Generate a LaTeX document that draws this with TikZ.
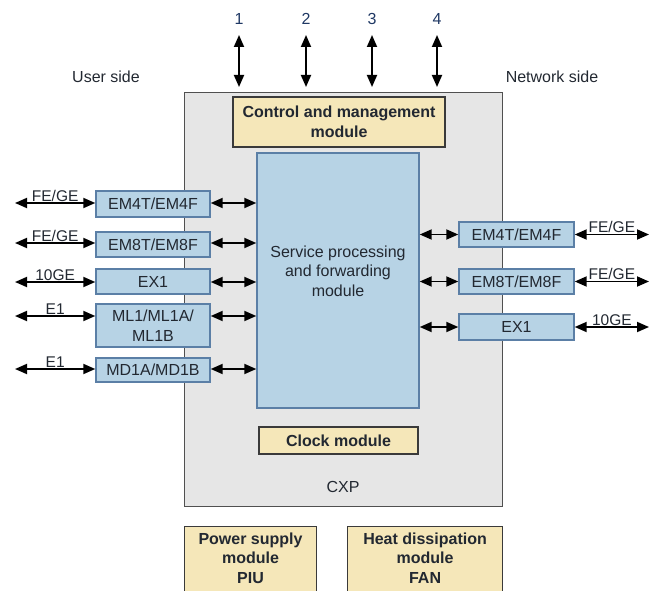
\documentclass[tikz,border=0pt]{standalone}
\usepackage{fontspec}
\setmainfont{Liberation Sans}
\usetikzlibrary{arrows.meta}

\definecolor{cxpfill}{HTML}{E6E6E6}
\definecolor{cxpedge}{HTML}{505050}
\definecolor{ylwfill}{HTML}{F5E7B9}
\definecolor{ylwedge}{HTML}{3A3A3A}
\definecolor{bluefill}{HTML}{B7D3E5}
\definecolor{blueedge}{HTML}{5B7FA6}
\definecolor{txtcol}{HTML}{222831}
\definecolor{numcol}{HTML}{1F3864}

\begin{document}
\begin{tikzpicture}[x=1pt,y=-1pt,
  every node/.style={text=txtcol, font=\fontsize{16}{19.5}\selectfont},
  cxpbox/.style={draw=cxpedge, fill=cxpfill, line width=1.2pt},
  ylwbox/.style={draw=ylwedge, fill=ylwfill, line width=1.1pt, align=center,
    font=\fontsize{16}{19.5}\selectfont\bfseries},
  bluebox/.style={draw=blueedge, fill=bluefill, line width=1.4pt, align=center, inner sep=0pt},
  biarrow/.style={{Triangle[length=12pt,width=10pt]}-{Triangle[length=12pt,width=10pt]}, line width=1.8pt, black},
  lbl/.style={above, inner sep=0.8pt, font=\fontsize{15.5}{18}\selectfont}]
\useasboundingbox (0,0) rectangle (650,591);
\clip (0,0) rectangle (650,591);

% chassis and its modules
\node[cxpbox, minimum width=318, minimum height=414, anchor=north west] (cxp) at (184,92) {};
\node[ylwbox, minimum width=212, minimum height=50] (ctrl) at (339,122) {Control and management\\module};
\node[bluebox, minimum width=162, minimum height=255] (svc) at (338,280.5) {};
\node[align=center] (svctxt) at (338,271) {Service processing\\and forwarding\\module};
\node[ylwbox, minimum width=159, minimum height=27] (clk) at (338.5,440.5) {Clock module};
\node (cxplbl) at (343,487) {CXP};

\node (usr) at (106,77) {User side};
\node (net) at (552,77) {Network side};

% management ports
\foreach \x/\k in {239/1,306/2,372/3,437/4}{
  \node[text=numcol] (num\k) at (\x,19) {\k};
  \coordinate (top\k) at (\x,35);
  \draw[biarrow] (top\k) -- ([yshift=5pt]cxp.north -| top\k);
}

% user side boards
\node[bluebox, minimum width=114, minimum height=26] (uem4) at (153,204) {EM4T/EM4F};
\node[bluebox, minimum width=114, minimum height=25] (uem8) at (153,244.5) {EM8T/EM8F};
\node[bluebox, minimum width=114, minimum height=25] (uex1) at (153,281.5) {EX1};
\node[bluebox, minimum width=114, minimum height=43] (uml1) at (153,325.5) {ML1/ML1A/\\ML1B};
\node[bluebox, minimum width=114, minimum height=24] (umd1) at (153,370) {MD1A/MD1B};

\foreach \n/\y/\t in {uem4/203/{FE/GE},uem8/243/{FE/GE},uex1/282/10GE,uml1/316/E1,umd1/369/E1}{
  \coordinate (ul\n) at (15,\y);
  \draw[biarrow] (ul\n) -- (\n.west |- ul\n) node[midway, lbl] {\t};
  \draw[biarrow] (\n.east |- ul\n) -- (svc.west |- ul\n);
}

% network side boards
\node[bluebox, minimum width=115, minimum height=25] (nem4) at (516.5,234.5) {EM4T/EM4F};
\node[bluebox, minimum width=115, minimum height=25] (nem8) at (516.5,281.5) {EM8T/EM8F};
\node[bluebox, minimum width=115, minimum height=26] (nex1) at (516.5,327) {EX1};

\foreach \n/\t in {nem4/{FE/GE},nem8/{FE/GE},nex1/10GE}{
  \coordinate (nr\n) at (649,0 |- \n);
  \draw[biarrow] (\n.east) -- (nr\n) node[midway, lbl] {\t};
  \draw[biarrow] (svc.east |- \n) -- (\n.west);
}

% power and fan
\node[ylwbox, minimum width=132, anchor=north west, inner ysep=6pt, text depth=25pt] (piu) at (184,526) {Power supply\\module\\PIU};
\node[ylwbox, minimum width=155, anchor=north west, inner ysep=6pt, text depth=25pt] (fan) at (347,526) {Heat dissipation\\module\\FAN};
\end{tikzpicture}
\end{document}
